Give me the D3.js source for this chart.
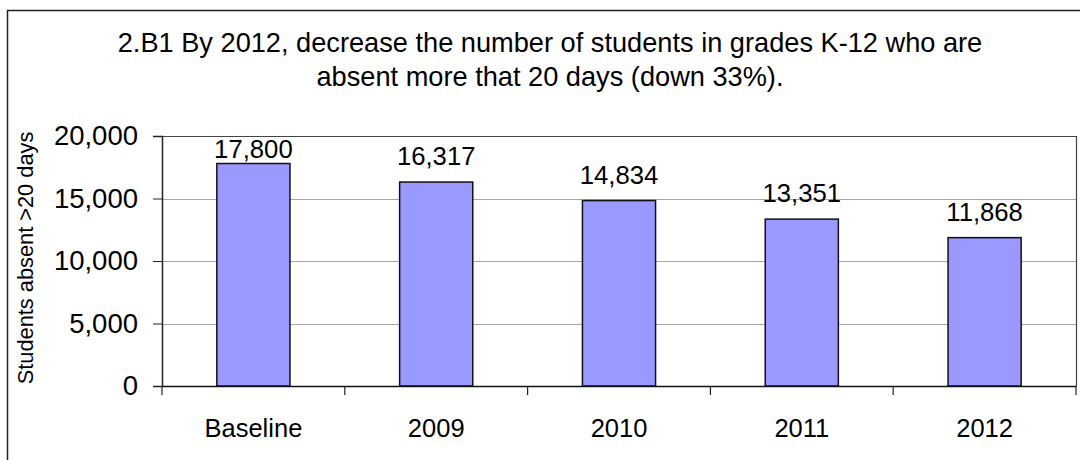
<!DOCTYPE html>
<html>
<head>
<meta charset="utf-8">
<script src="https://cdn.jsdelivr.net/npm/d3@7"></script>
<style>
  html, body { margin: 0; padding: 0; background: #fff; }
  svg { display: block; font-family: "Liberation Sans", Arial, sans-serif; }
</style>
</head>
<body>
<svg id="chart" width="1080" height="460"></svg>
<script>
// Goal 2.B1: students absent more than 20 days
const categories = ["Baseline", "2009", "2010", "2011", "2012"];
const values = [17800, 16317, 14834, 13351, 11868];
const yTicks = [0, 5000, 10000, 15000, 20000];
const titleLines = [
  "2.B1 By 2012, decrease the number of students in grades K-12 who are",
  "absent more that 20 days (down 33%)."
];
const yAxisTitle = "Students absent >20 days";

const svg = d3.select("#chart");
const W = 1080, H = 460;
const plot = { left: 162, right: 1076, top: 136, bottom: 386 };
const fmt = d3.format(",");

// outer chart frame (continues past the right and bottom edges)
svg.append("rect")
  .attr("x", 7.5).attr("y", 10.5)
  .attr("width", W + 20).attr("height", H + 20)
  .attr("fill", "#fff").attr("stroke", "#222").attr("stroke-width", 1.5);

// title
svg.append("g").selectAll("text").data(titleLines).join("text")
  .attr("x", 550).attr("y", (d, i) => 52 + i * 34)
  .attr("text-anchor", "middle")
  .attr("font-size", 27.2)
  .attr("fill", "#000")
  .text(d => d);

const x = d3.scaleBand().domain(categories).range([plot.left, plot.right]).paddingInner(0).paddingOuter(0);
const y = d3.scaleLinear().domain([0, 20000]).range([plot.bottom, plot.top]);

// gridlines
svg.append("g").selectAll("line").data(yTicks.filter(t => t > 0 && t < 20000)).join("line")
  .attr("x1", plot.left).attr("x2", plot.right)
  .attr("y1", d => Math.round(y(d)) + 0.5).attr("y2", d => Math.round(y(d)) + 0.5)
  .attr("stroke", "#a6a6a6").attr("stroke-width", 1);

// plot area border (top and right)
svg.append("path")
  .attr("d", `M${plot.left},${plot.top + 0.5}H${plot.right + 0.5}V${plot.bottom}`)
  .attr("fill", "none").attr("stroke", "#444").attr("stroke-width", 1.2);

// bars
const barW = x.bandwidth() * 0.4;
svg.append("g").selectAll("rect").data(values).join("rect")
  .attr("x", (d, i) => x(categories[i]) + (x.bandwidth() - barW) / 2)
  .attr("y", d => y(d))
  .attr("width", barW)
  .attr("height", d => y(0) - y(d))
  .attr("fill", "#9999ff")
  .attr("stroke", "#111").attr("stroke-width", 1.5);

// value labels
svg.append("g").selectAll("text").data(values).join("text")
  .attr("x", (d, i) => x(categories[i]) + x.bandwidth() / 2)
  .attr("y", d => Math.max(y(d) - 17, plot.top + 22))
  .attr("text-anchor", "middle")
  .attr("font-size", 25.7)
  .attr("fill", "#000")
  .text(d => fmt(d));

// y axis
const yAxis = d3.axisLeft(y).tickValues(yTicks).tickFormat(fmt).tickSize(9).tickPadding(15);
const gy = svg.append("g").attr("transform", `translate(${plot.left},0)`).call(yAxis);
gy.select(".domain").attr("stroke", "#222").attr("stroke-width", 1.5);
gy.selectAll(".tick line").attr("stroke", "#222").attr("stroke-width", 1);
gy.selectAll(".tick text").attr("font-size", 27.5).attr("fill", "#000")
  .attr("font-family", "Liberation Sans, Arial, sans-serif");

// x axis with ticks at category boundaries
const xAxis = d3.axisBottom(x).tickSize(0).tickPadding(33);
const gx = svg.append("g").attr("transform", `translate(0,${plot.bottom})`).call(xAxis);
gx.select(".domain").attr("stroke", "#111").attr("stroke-width", 1.5);
gx.selectAll(".tick text").attr("font-size", 25.5).attr("fill", "#000")
  .attr("font-family", "Liberation Sans, Arial, sans-serif");
const bounds = categories.map(c => x(c)).concat([plot.right]);
svg.append("g").selectAll("line").data(bounds).join("line")
  .attr("x1", d => d).attr("x2", d => d)
  .attr("y1", plot.bottom).attr("y2", plot.bottom + 9)
  .attr("stroke", "#222").attr("stroke-width", 1.2);

// y axis title
svg.append("text")
  .attr("transform", `translate(33,258) rotate(-90)`)
  .attr("text-anchor", "middle")
  .attr("font-size", 21.8)
  .attr("fill", "#000")
  .text(yAxisTitle);
</script>
</body>
</html>
